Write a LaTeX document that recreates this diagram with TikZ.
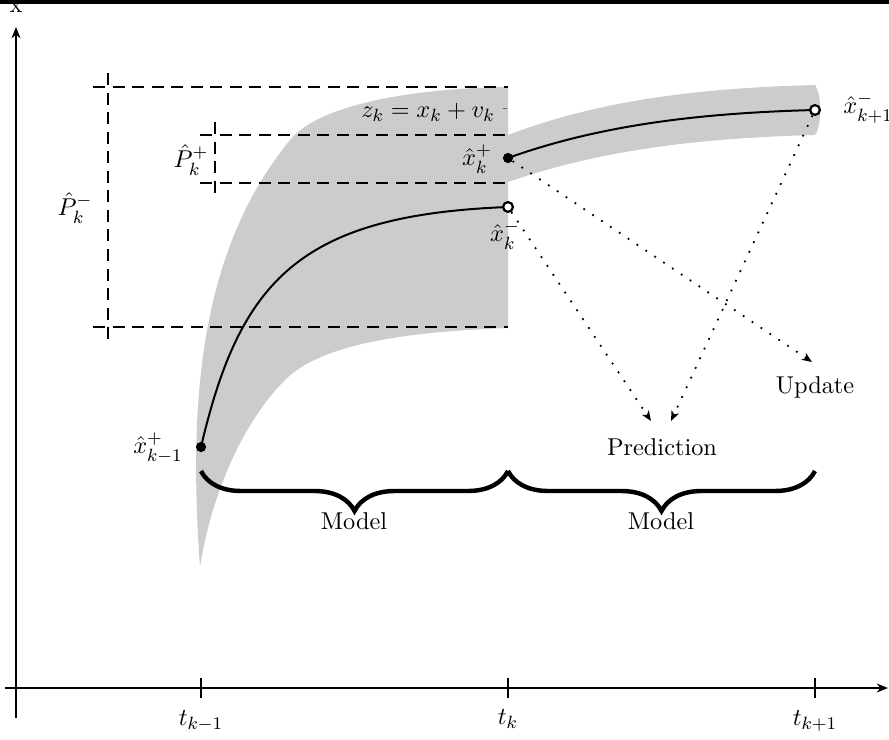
\documentclass[tikz,border=0pt]{standalone}
\usetikzlibrary{arrows.meta,decorations.pathreplacing}
\begin{document}
\begin{tikzpicture}[x=0.45pt,y=-0.45pt,
  every node/.style={font=\fontsize{10.95pt}{13pt}\selectfont},
  band/.style={fill=black!20, draw=none},
  dashline/.style={line width=1.3pt, dash pattern=on 5.4pt off 3.4pt},
  axisline/.style={line width=1.3pt, -{Stealth[length=5pt,width=4pt,inset=1.5pt]}},
  tickline/.style={line width=0.5pt},
  meanline/.style={line width=0.9pt},
  dotarrow/.style={line width=0.8pt, loosely dotted, -{Stealth[length=4.5pt,width=3.6pt,inset=1.2pt]}},
  bracestyle/.style={decorate, decoration={brace, mirror, amplitude=18pt}, line width=2pt},
  fdot/.style={circle, fill=black, inner sep=0pt, minimum size=4.6pt},
  odot/.style={circle, draw=black, fill=white, line width=1pt, inner sep=0pt, minimum size=4.4pt},
  lbl/.style={inner sep=0pt}]
\clip (0,0) rectangle (889,740);
% grey uncertainty regions
\fill[band] (200,567) .. controls (188,400) and (200,250) .. (290,140)
  .. controls (320,103) and (420,88) .. (508,87) -- (508,328)
  .. controls (400,332) and (320,345) .. (285,380)
  .. controls (245,420) and (212,490) .. (200,567) -- cycle;
\fill[band] (508,135) .. controls (600,100) and (700,88) .. (815,85)
  .. controls (822,95) and (822,125) .. (815,135)
  .. controls (700,138) and (600,150) .. (508,182) -- cycle;
% dashed covariance lines
\draw[dashline] (93,87) -- (508,87);
\draw[dashline] (93,327) -- (508,327);
\draw[dashline] (108,73) -- (108,340);
\draw[dashline] (200,135) -- (508,135);
\draw[dashline] (200,183) -- (508,183);
\draw[dashline] (215,122) -- (215,196);
\draw[line width=0.4pt, black!60] (503,108) -- (507,108);
% top border
\draw[line width=1.8pt] (0,2) -- (889,2);
% axes
\coordinate (yb) at (16,718);
\coordinate (yt) at (16,27);
\coordinate (xl) at (5,688);
\coordinate (xr) at (888,688);
\draw[axisline] (yb) -- (yt);
\draw[axisline] (xl) -- (xr);
\draw[tickline] (201,678) -- (201,698);
\draw[tickline] (508,678) -- (508,698);
\draw[tickline] (815,678) -- (815,698);
\node[lbl] (xaxlab) at (16,7.5) {x};
\node[lbl] (t1) at (201,721) {$t_{k-1}$};
\node[lbl] (t2) at (508,719) {$t_k$};
\node[lbl] (t3) at (815,721) {$t_{k+1}$};
% state points
\coordinate (p1) at (201,447);
\coordinate (p2) at (508,207);
\coordinate (p3) at (508,158);
\coordinate (p4) at (815,110);
\draw[meanline] (p1) .. controls (240,280) and (300,215) .. (p2);
\draw[meanline] (p3) .. controls (600,125) and (700,113) .. (p4);
\node[fdot] (xkm1) at (p1) {};
\node[odot] (xkmin) at (p2) {};
\node[fdot] (xkplus) at (p3) {};
\node[odot] (xk1min) at (p4) {};
% labels
\node[lbl] (lxkm1) at (158,448) {$\hat{x}_{k-1}^{+}$};
\node[lbl] (lxkplus) at (477,159) {$\hat{x}_{k}^{+}$};
\node[lbl] (lxkmin) at (505,235) {$\hat{x}_{k}^{-}$};
\node[lbl, anchor=west] (lxk1min) at (843,108) {$\hat{x}_{k+1}^{-}$};
\node[lbl] (zk) at (428,112) {$z_k = x_k + v_k$};
\node[lbl] (Pm) at (75,208) {$\hat{P}_k^{-}$};
\node[lbl] (Pp) at (191,160) {$\hat{P}_k^{+}$};
% prediction / update
\node[lbl] (pred) at (662,447) {Prediction};
\node[lbl] (upd) at (815,387) {Update};
\coordinate (pa) at (651,421);
\coordinate (pb) at (671,421);
\coordinate (ua) at (812,362);
\draw[dotarrow] (xkmin) -- (pa);
\draw[dotarrow] (xk1min) -- (pb);
\draw[dotarrow] (xkplus) -- (ua);
% braces
\draw[bracestyle] (201,471) -- (508,471);
\draw[bracestyle] (508,471) -- (815,471);
\node[lbl] (m1) at (354,521) {Model};
\node[lbl] (m2) at (661,521) {Model};
\end{tikzpicture}
\end{document}
